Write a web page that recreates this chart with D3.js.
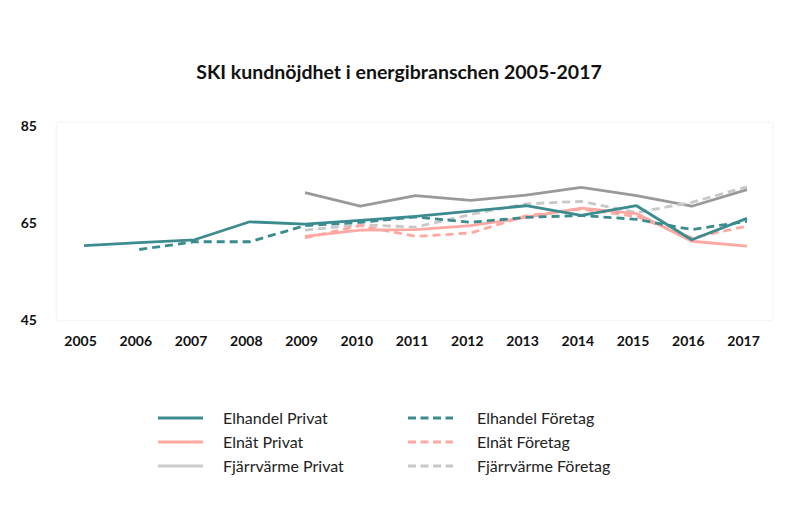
<!DOCTYPE html>
<html><head><meta charset="utf-8">
<script src="https://cdn.jsdelivr.net/npm/d3@7"></script>
<style>body{margin:0;background:#fff;} text{font-family:Lato,"Open Sans",sans-serif;}</style>
</head><body>
<svg id="c" width="800" height="528"></svg>
<script>
const years = [2005,2006,2007,2008,2009,2010,2011,2012,2013,2014,2015,2016,2017];
const yTicks = [45,65,85];
const elhandelPrivat   = [60.4,61.0,61.6,65.3,64.8,65.6,66.4,67.5,68.6,66.6,68.6,61.6,66.0];
const elhandelForetag  = [null,59.6,61.2,61.2,64.5,65.2,66.3,65.2,66.2,66.6,65.8,63.7,65.4];
const elnatPrivat      = [null,null,null,null,62.3,63.6,63.7,64.5,66.2,68.1,67.0,61.3,60.3];
const elnatForetag     = [null,null,null,null,62.0,64.5,62.3,63.0,66.5,67.9,66.4,62.0,64.4];
const fjvPrivat        = [null,null,null,null,71.3,68.5,70.7,69.7,70.8,72.4,70.7,68.5,71.9];
const fjvForetag       = [null,null,null,null,63.6,64.7,64.2,66.8,69.0,69.5,67.2,69.3,72.5];

const series = [
  {name:"Elhandel Privat", values:elhandelPrivat, color:"#3b8b8f", dash:null},
  {name:"Elnät Privat", values:elnatPrivat, color:"#ffa8a2", dash:null},
  {name:"Fjärrvärme Privat", values:fjvPrivat, color:"#9a9a9a", dash:null},
  {name:"Elhandel Företag", values:elhandelForetag, color:"#3b8b8f", dash:"8,5"},
  {name:"Elnät Företag", values:elnatForetag, color:"#ffa8a2", dash:"8,5"},
  {name:"Fjärrvärme Företag", values:fjvForetag, color:"#c8c8c8", dash:"8,5"}
];
const legendColors = {"Fjärrvärme Privat":"#cccccc"};

const svg = d3.select("#c");
const x = d3.scalePoint().domain(years).range([84,747]);
const y = d3.scaleLinear().domain([45,85]).range([320.5,126]);

const defs = svg.append("defs");
const f = defs.append("filter").attr("id","sh").attr("x","-5%").attr("y","-5%").attr("width","110%").attr("height","110%");
f.append("feDropShadow").attr("dx",0).attr("dy",0).attr("stdDeviation",1.2).attr("flood-color","#000").attr("flood-opacity",0.12);

svg.append("rect").attr("x",57).attr("y",123).attr("width",715).attr("height",197)
  .attr("fill","#fff").attr("filter","url(#sh)");

svg.append("text").attr("x",399).attr("y",79).attr("text-anchor","middle")
  .attr("font-size",19.5).attr("font-weight",700).attr("fill","#111")
  .text("SKI kundnöjdhet i energibranschen 2005-2017");

// axes
const xAxis = svg.append("g").attr("transform","translate(-4,330)")
  .call(d3.axisBottom(x).tickSize(0).tickPadding(6));
xAxis.select(".domain").remove();
xAxis.selectAll("text").attr("font-size",14).attr("font-weight",700).attr("fill","#111")
  .style("font-family","Lato,sans-serif");

const yAxis = svg.append("g").attr("transform","translate(37,0)")
  .call(d3.axisLeft(y).tickValues(yTicks).tickSize(0).tickPadding(0));
yAxis.select(".domain").remove();
yAxis.selectAll("text").attr("font-size",14).attr("font-weight",700).attr("fill","#111")
  .style("font-family","Lato,sans-serif");

const line = d3.line()
  .defined(d => d.v != null)
  .x(d => x(d.year)).y(d => y(d.v));

const order = [2,5,1,4,3,0];
order.forEach(i => {
  const s = series[i];
  const data = years.map((yr,k) => ({year:yr, v:s.values[k]}));
  svg.append("path").datum(data).attr("d",line)
    .attr("fill","none").attr("stroke",s.color).attr("stroke-width",2.8)
    .attr("stroke-dasharray",s.dash).attr("stroke-linejoin","round");
});

// legend
const rowsY = [418,442,466];
series.forEach((s,i) => {
  const col = i < 3 ? 0 : 1;
  const row = i % 3;
  const lx = col === 0 ? 158 : 408;
  const tx = col === 0 ? 223 : 477;
  const g = svg.append("g");
  g.append("line").attr("x1",lx).attr("x2",lx+45).attr("y1",rowsY[row]).attr("y2",rowsY[row])
    .attr("stroke", legendColors[s.name] || s.color).attr("stroke-width",3)
    .attr("stroke-dasharray", s.dash ? "8,4.5" : null);
  g.append("text").attr("x",tx).attr("y",rowsY[row]).attr("dy","0.35em")
    .attr("font-size",16).attr("fill","#222").text(s.name);
});
</script>
</body></html>
